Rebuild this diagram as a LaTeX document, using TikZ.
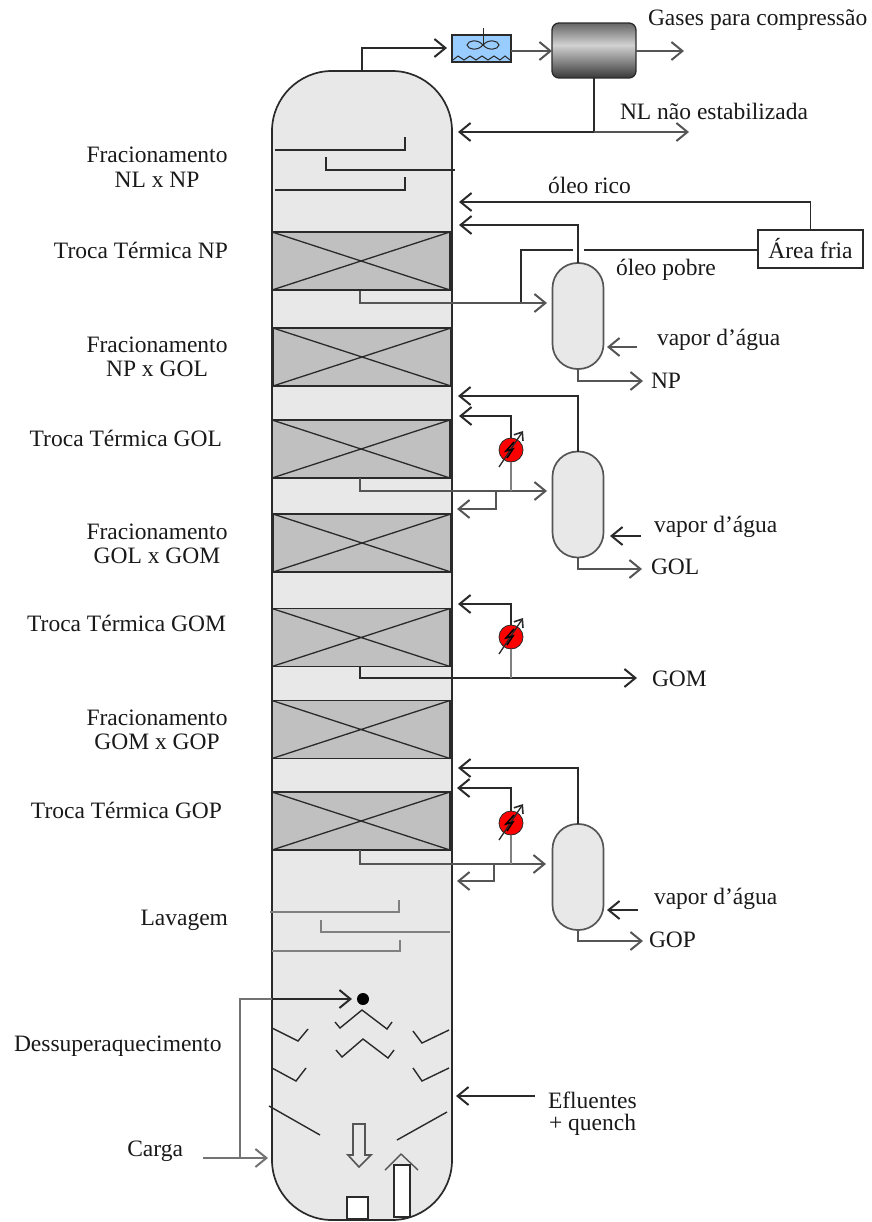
\documentclass[tikz,border=0pt]{standalone}
\usepackage{fontspec}
\setmainfont{Liberation Serif}
\usetikzlibrary{arrows.meta}
\definecolor{colfill}{HTML}{E8E8E8}
\definecolor{packfill}{HTML}{C0C0C0}
\definecolor{ink}{HTML}{2A2A2A}
\definecolor{soft}{HTML}{555555}
\definecolor{coolblue}{HTML}{99CCFF}
\tikzset{
  pipe/.style={draw=ink,line width=1.8pt},
  softpipe/.style={draw=soft,line width=2.1pt},
  arr/.style={-{Straight Barb[length=11pt,width=18pt,line width=2pt]}},
  vessel/.style={draw=ink,line width=1.7pt,fill=colfill,inner sep=0pt,outer sep=0pt},
  column/.style={vessel,minimum width=180pt,minimum height=1149pt,rounded corners=60pt},
  stripper/.style={vessel,minimum width=51pt,minimum height=106pt,rounded corners=25pt,draw=soft},
  packing/.style={draw=ink,line width=1.9pt,fill=packfill,inner sep=0pt,outer sep=0pt,minimum width=178pt,minimum height=58pt},
  heater/.style={circle,draw=ink,line width=0.8pt,fill=red,minimum size=24pt,inner sep=0pt,outer sep=0pt},
  lbl/.style={inner sep=0pt,outer sep=0pt,text=black!90,font=\fontsize{23.5}{24.5}\selectfont,align=center},
  thin tray/.style={draw=ink,line width=1.6pt},
  gray tray/.style={draw=black!50,line width=2pt},
  hollow/.style={draw=ink,line width=1.6pt,fill=white},
  plain hollow/.style={draw=soft,line width=1.6pt,fill=colfill},
  baffle/.style={draw=ink,line width=1.4pt},
}
\newcommand{\packcross}[1]{\draw[ink,line width=1.3pt] (#1.north west)--(#1.south east) (#1.south west)--(#1.north east);}
\newcommand{\heaterbolt}[1]{%
  \draw[ink,line width=1.3pt,-{Straight Barb[length=7pt,width=11pt,line width=1.6pt]}] ([shift={(-12,17)}]#1.center) -- ([shift={(12,-19)}]#1.center);
  \draw[black,line width=1.5pt] ([shift={(3,-8)}]#1.center) -- ([shift={(-5,1)}]#1.center) -- ([shift={(2,-1)}]#1.center) -- ([shift={(-4,8)}]#1.center);}
\begin{document}
\begin{tikzpicture}[x=1pt,y=-1pt]
\useasboundingbox (0,0) rectangle (871,1222);
% column
\node[column] (col) at (362,645.5) {};
\node[packing] (b1) at (361,261) {};
\node[packing] (b2) at (362,357) {};
\node[packing] (b3) at (361,449) {};
\node[packing] (b4) at (362,543) {};
\node[packing] (b5) at (361,637.5) {};
\node[packing] (b6) at (361,729.5) {};
\node[packing] (b7) at (361,821) {};
\packcross{b1}\packcross{b2}\packcross{b3}\packcross{b4}\packcross{b5}\packcross{b6}\packcross{b7}
% upper trays
\coordinate (t1a) at (275,150); \coordinate (t1b) at (405,137);
\coordinate (t2a) at (326,157); \coordinate (t2b) at (455,170);
\coordinate (t3a) at (275,190); \coordinate (t3b) at (405,177);
\draw[thin tray] (t1a) -| (t1b);
\draw[thin tray] (t2a) |- (t2b);
\draw[thin tray] (t3a) -| (t3b);
% wash trays
\coordinate (w1a) at (270,912); \coordinate (w1b) at (399,900);
\coordinate (w2a) at (321,920); \coordinate (w2b) at (450,932);
\coordinate (w3a) at (272,951); \coordinate (w3b) at (400,940);
\draw[gray tray] (w1a) -| (w1b);
\draw[gray tray] (w2a) |- (w2b);
\draw[gray tray] (w3a) -| (w3b);
% overhead
\node[draw=ink,line width=1.6pt,fill=coolblue,minimum width=59pt,minimum height=27pt,inner sep=0pt,outer sep=0pt] (cool) at (481.5,48.5) {};
\coordinate (coolfan) at (483,45);
\coordinate (coolshaft) at (483,28);
\draw[ink,line width=0.8pt] (coolshaft) -- (coolfan);
\draw[ink,line width=1pt] (coolfan) .. controls (478,39) and (468,40) .. (467,45) .. controls (468,50) and (478,51) .. (coolfan)
  .. controls (488,39) and (498,40) .. (499,45) .. controls (498,50) and (488,51) .. (coolfan);
\draw[ink,line width=1pt] (453,60) -- (458,56) -- (464,60) -- (470,56) -- (476,60) -- (482,56) -- (488,60) -- (494,56) -- (500,60) -- (505,56) -- (510,60);
% drum: vertical gradient made of strips
\begin{scope}
\clip[rounded corners=7pt] (552,23) rectangle (636,78);
\foreach \i in {0,...,54}{
  \pgfmathsetmacro{\shadeval}{\i<22 ? 18+42*(22-\i)/22 : 18+58*(\i-22)/32}
  \fill[black!\shadeval] (552,23+\i) rectangle (636,24.5+\i);
}
\end{scope}
\node[draw=ink,line width=1.3pt,rounded corners=7pt,minimum width=84pt,minimum height=55pt,inner sep=0pt,outer sep=0pt] (drum) at (594,50.5) {};
\coordinate (topjog) at (447,48);
\coordinate (coltop) at (362,71);
\draw[pipe,arr] (coltop) |- (topjog);
\coordinate (gasout) at (684,51);
\draw[softpipe,arr] (cool.east |- gasout) -- (drum.west |- gasout);
\draw[softpipe,arr] (drum.east |- gasout) -- (gasout);
\coordinate (nlj) at (594,132);
\coordinate (nlleft) at (458,132);
\coordinate (nlright) at (689,132);
\draw[pipe] (drum.south) -- (nlj);
\draw[pipe,line width=2.2pt,arr] (nlj) -- (nlleft);
\draw[softpipe,line width=2.2pt,arr] (nlj) -- (nlright);
% cold area
\node[draw=ink,line width=1.6pt,fill=white,minimum width=105pt,minimum height=38pt,inner sep=0pt,outer sep=0pt,lbl] (fria) at (810.5,249) {Área fria};
\coordinate (rico) at (459,202);
\draw[pipe,arr] (fria.north) |- (rico);
% strippers
\node[stripper] (s1) at (578,316) {};
\node[stripper] (s2) at (578,504.5) {};
\node[stripper] (s3) at (578,877) {};
\coordinate (s1ret) at (459,225);
\draw[pipe,arr] (s1.north) |- (s1ret);
% oleo pobre
\coordinate (pobreA) at (584,250);
\coordinate (pobreB) at (573,250);
\coordinate (pobreC) at (521,303);
\draw[pipe] (fria.west |- pobreA) -- (pobreA);
\draw[pipe] (pobreB) -| (pobreC);
% draw-offs
\coordinate (d1a) at (360,291);\coordinate (d1b) at (547,303);
\draw[softpipe,arr] (d1a) |- (d1b);
\coordinate (d2a) at (360,478);\coordinate (d2b) at (547,491);
\draw[softpipe,arr] (d2a) |- (d2b);
\coordinate (d3a) at (360,667);\coordinate (d3b) at (637,678);
\draw[pipe,arr] (d3a) |- (d3b);
\coordinate (d4a) at (360,850);\coordinate (d4b) at (546,864);
\draw[softpipe,arr] (d4a) |- (d4b);
% heaters
\node[heater] (h1) at (511,450) {};
\node[heater] (h2) at (511,637) {};
\node[heater] (h3) at (511,823) {};
\coordinate (h1t) at (459,416);\coordinate (h2t) at (458,604);\coordinate (h3t) at (457,788);
\coordinate (h1b) at (511,491);\coordinate (h2b) at (511,678);\coordinate (h3b) at (511,864);
\draw[pipe,arr] (h1.north) |- (h1t);
\draw[pipe,arr] (h2.north) |- (h2t);
\draw[pipe,arr] (h3.north) |- (h3t);
\draw[softpipe,draw=black!50] (h1b) -- (h1.south);
\draw[softpipe,draw=black!50] (h2b) -- (h2.south);
\draw[softpipe,draw=black!50] (h3b) -- (h3.south);
\heaterbolt{h1}\heaterbolt{h2}\heaterbolt{h3}
% branches
\coordinate (br2a) at (496,491);\coordinate (br2b) at (457,509);
\coordinate (br4a) at (494,864);\coordinate (br4b) at (457,881);
\draw[softpipe,arr] (br2a) |- (br2b);
\draw[softpipe,arr] (br4a) |- (br4b);
% stripper overheads
\coordinate (s2t) at (458,396);\coordinate (s3t) at (458,768);
\draw[pipe,arr] (s2.north) |- (s2t);
\draw[pipe,arr] (s3.north) |- (s3t);
% steam
\coordinate (v1a) at (637,347);\coordinate (v1b) at (607,347);
\coordinate (v2a) at (641,536);\coordinate (v2b) at (610,536);
\coordinate (v3a) at (638,910);\coordinate (v3b) at (607,910);
\draw[softpipe,arr] (v1a) -- (v1b);
\draw[pipe,arr] (v2a) -- (v2b);
\draw[pipe,arr] (v3a) -- (v3b);
% bottoms
\coordinate (p1) at (643,381);\coordinate (p2) at (642,569);\coordinate (p3) at (643,941);
\draw[softpipe,arr] (s1.south) |- (p1);
\draw[softpipe,arr] (s2.south) |- (p2);
\draw[softpipe,arr] (s3.south) |- (p3);
% bottom section
\node[circle,fill=black,minimum size=12pt,inner sep=0pt,outer sep=0pt] (dot) at (363,999) {};
\coordinate (cargaS) at (203,1158);\coordinate (cargaT) at (268,1158);\coordinate (cargaJ) at (240,1158);\coordinate (dotT) at (352,999);\coordinate (cargaK) at (240,999);\coordinate (cargaW) at (272,999);
\draw[softpipe,draw=black!55,arr] (cargaS) -- (cargaT);
\draw[softpipe,draw=black!55] (cargaJ) -- (cargaK) -- (cargaW);
\draw[pipe,arr] (cargaW) -- (dotT);
\coordinate (efS) at (535,1096);\coordinate (efT) at (456,1096);
\draw[pipe,arr] (efS) -- (efT);
% baffles
\draw[baffle] (335,1022)--(340,1028)--(362,1010)--(387,1029)--(392,1022);
\draw[baffle] (336,1050)--(342,1057)--(363,1039)--(388,1058)--(394,1050);
\draw[baffle] (272,1028)--(298,1041)--(308,1029);
\draw[baffle] (272,1068)--(296,1081)--(306,1068);
\draw[baffle] (449,1030)--(422,1043)--(413,1031);
\draw[baffle] (449,1068)--(422,1081)--(413,1068);
\draw[baffle] (269,1106)--(320,1135);
\draw[baffle] (447,1112)--(397,1140);
% hollow arrows
\draw[plain hollow] (353,1124)--(365,1124)--(365,1155)--(371,1155)--(359,1167)--(348,1155)--(353,1155)--cycle;
\draw[soft,line width=1.4pt] (385,1170)--(401,1154)--(418,1170);
\node[hollow,minimum width=16pt,minimum height=52pt,inner sep=0pt,outer sep=0pt] (upbar) at (402,1191) {};
\node[hollow,minimum width=21pt,minimum height=22pt,inner sep=0pt,outer sep=0pt] (sq) at (357.5,1208) {};
% labels
\node[lbl,anchor=west] (gases) at (648,20) {Gases para compressão};
\node[lbl,anchor=west] (nlns) at (620,111) {NL não estabilizada};
\node[lbl,anchor=west] (orico) at (548,185) {óleo rico};
\node[lbl,anchor=west] (opobre) at (616,270) {óleo pobre};
\node[lbl,anchor=west] (vap1) at (657,340) {vapor d’água};
\node[lbl,anchor=west] (vap2) at (654,527) {vapor d’água};
\node[lbl,anchor=west] (vap3) at (654,899) {vapor d’água};
\node[lbl,anchor=west] (np) at (651,381) {NP};
\node[lbl,anchor=west] (gol) at (651,567) {GOL};
\node[lbl,anchor=west] (gom) at (652,679) {GOM};
\node[lbl,anchor=west] (gop) at (649,940) {GOP};
\node[lbl,anchor=west] (eflu) at (548,1100) {Efluentes};
\node[lbl,anchor=west] (quen) at (549,1125) {+ quench};
\node[lbl] (f1) at (157,167) {Fracionamento\\NL x NP};
\node[lbl] (f2) at (157,357) {Fracionamento\\NP x GOL};
\node[lbl] (f3) at (157,544) {Fracionamento\\GOL x GOM};
\node[lbl] (f4) at (157,730) {Fracionamento\\GOM x GOP};
\node[lbl,anchor=east] (tt1) at (228,250) {Troca Térmica NP};
\node[lbl,anchor=east] (tt2) at (222,438) {Troca Térmica GOL};
\node[lbl,anchor=east] (tt3) at (226,623) {Troca Térmica GOM};
\node[lbl,anchor=east] (tt4) at (222,810) {Troca Térmica GOP};
\node[lbl,anchor=east] (lav) at (228,920) {Lavagem};
\node[lbl,anchor=west] (des) at (14,1046) {Dessuperaquecimento};
\node[lbl,anchor=east] (car) at (183,1151) {Carga};
\end{tikzpicture}
\end{document}
